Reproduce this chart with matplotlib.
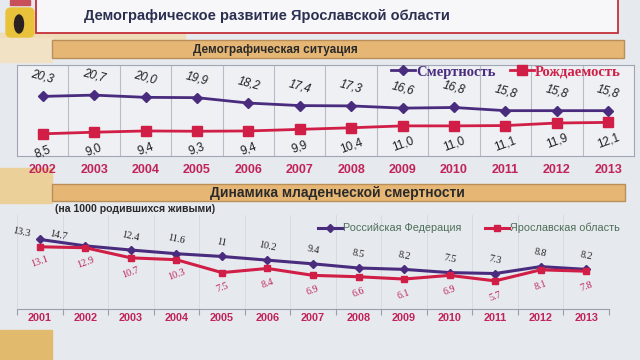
import matplotlib
matplotlib.use("Agg")
import matplotlib.pyplot as plt
from matplotlib.patches import Rectangle, Ellipse, FancyBboxPatch

# ---------------- data ----------------
years_top = ["2002", "2003", "2004", "2005", "2006", "2007", "2008", "2009",
             "2010", "2011", "2012", "2013"]
mortality = [20.3, 20.7, 20.0, 19.9, 18.2, 17.4, 17.3, 16.6, 16.8, 15.8, 15.8, 15.8]
birth_rate = [8.5, 9.0, 9.4, 9.3, 9.4, 9.9, 10.4, 11.0, 11.0, 11.1, 11.9, 12.1]

years_bottom = ["2001", "2002", "2003", "2004", "2005", "2006", "2007", "2008",
                "2009", "2010", "2011", "2012", "2013"]
infant_rf = [14.7, 13.3, 12.4, 11.6, 11.0, 10.2, 9.4, 8.5, 8.2, 7.5, 7.3, 8.8, 8.2]
infant_yar = [13.1, 12.9, 10.7, 10.3, 7.5, 8.4, 6.9, 6.6, 6.1, 6.9, 5.7, 8.1, 7.8]

title = "Демографическое развитие Ярославской области"
header1 = "Демографическая ситуация"
header2 = "Динамика младенческой смертности"
subtitle = "(на 1000 родившихся живыми)"
leg_top = ["Смертность", "Рождаемость"]
leg_bottom = ["Российская Федерация", "Ярославская область"]

PURPLE = "#4a2c7e"
RED = "#d01e46"
CRIMSON = "#c0245a"
W, H = 640, 360

plt.rcParams["font.family"] = ["Liberation Sans", "DejaVu Sans"]

fig = plt.figure(figsize=(6.4, 3.6), dpi=100)
fig.patch.set_facecolor("#e6e9ee")


def box(x0, y0, x1, y1, **kw):
    return fig.add_axes([x0 / W, 1 - y1 / H, (x1 - x0) / W, (y1 - y0) / H], **kw)


# ---------------- background / decorations ----------------
bg = box(0, 0, W, H)
bg.set_xlim(0, W)
bg.set_ylim(H, 0)
bg.axis("off")
bg.set_zorder(-5)
bg.add_patch(Rectangle((0, 0), W, H, color="#e6e9ee"))
bg.add_patch(Rectangle((0, 33), 185, 8, color="#efdcb8"))
bg.add_patch(Rectangle((0, 38), 52, 24, color="#f1e2c6"))
bg.add_patch(Rectangle((0, 168), 52, 35, color="#ecd09a"))
bg.add_patch(Rectangle((0, 330), 52, 30, color="#e2ba6e"))
# coat of arms
bg.add_patch(Rectangle((10, 0), 20, 5, color="#c8505a"))
bg.add_patch(FancyBboxPatch((6, 8), 28, 29, boxstyle="round,pad=0,rounding_size=5",
                            color="#e8c23a"))
bg.add_patch(Ellipse((19, 24), 9, 18, color="#2a2220"))
# title box
bg.add_patch(Rectangle((36, -3), 582, 36, facecolor="#f7f7f9", edgecolor="#c4303a", lw=1.3))
bg.text(267, 16, title, ha="center", va="center", fontsize=10.5, fontweight="bold",
        color="#2c3050")
# header bars
bg.add_patch(Rectangle((52, 40), 572, 18, facecolor="#e6b674", edgecolor="#b98e58", lw=1))
bg.text(275, 49.5, header1, ha="center", va="center", fontsize=8.5, fontweight="bold",
        color="#2a2a2a")
bg.add_patch(Rectangle((52, 184), 573, 17, facecolor="#e6b674", edgecolor="#b98e58", lw=1))
bg.text(337, 193, header2, ha="center", va="center", fontsize=10, fontweight="bold",
        color="#2a2a2a")
bg.text(55, 209, subtitle, ha="left", va="center", fontsize=7.6, fontweight="bold",
        color="#2a2a2a")

# ---------------- top chart ----------------
ax1 = box(17, 65, 634, 156)
ax1.set_facecolor("#eef0f4")
x1 = list(range(len(years_top)))
ax1.plot(x1, mortality, color=PURPLE, lw=2, marker="D", ms=5.5, zorder=3,
         label=leg_top[0])
ax1.plot(x1, birth_rate, color=RED, lw=2, marker="s", ms=6.5, zorder=3,
         label=leg_top[1])
ax1.set_xlim(-0.5, len(years_top) - 0.5)
ax1.set_ylim(1.5, 30.2)
ax1.set_yticks([])
ax1.set_xticks(x1)
ax1.set_xticklabels(years_top, fontsize=9, fontweight="bold", color=CRIMSON)
ax1.tick_params(axis="x", length=0, pad=6)
ax1.set_xticks([i + 0.5 for i in x1[:-1]], minor=True)
ax1.tick_params(axis="x", which="minor", length=0)
ax1.grid(axis="x", which="minor", color="#b8bcc8", lw=0.8)
for s in ax1.spines.values():
    s.set_color("#a0a6b4")
    s.set_linewidth(0.8)
for i, v in enumerate(mortality):
    ax1.annotate(f"{v:.1f}".replace(".", ","), (i, v), xytext=(0, 14),
                 textcoords="offset points", ha="center", va="center", fontsize=8.5,
                 fontstyle="italic", color="#1e1e1e", rotation=-15)
for i, v in enumerate(birth_rate):
    ax1.annotate(f"{v:.1f}".replace(".", ","), (i, v), xytext=(0, -13),
                 textcoords="offset points", ha="center", va="center", fontsize=8.5,
                 color="#1e1e1e", rotation=20)
leg1 = ax1.legend(loc="upper right", bbox_to_anchor=(1.0, 1.14), ncol=2, frameon=False,
                  handlelength=1.6, columnspacing=1.0, handletextpad=0.1,
                  prop={"family": ["Liberation Serif"], "weight": "bold", "size": 10.5})
for t, c in zip(leg1.get_texts(), [PURPLE, RED]):
    t.set_color(c)

# ---------------- bottom chart ----------------
ax2 = box(17, 215, 609, 309)
ax2.set_facecolor("none")
x2 = list(range(len(years_bottom)))
ax2.plot(x2, infant_rf, color=PURPLE, lw=2.2, marker="D", ms=4.5, zorder=3,
         label=leg_bottom[0])
ax2.plot(x2, infant_yar, color=RED, lw=2.2, marker="s", ms=4.5, zorder=3,
         label=leg_bottom[1])
ax2.set_xlim(-0.5, len(years_bottom) - 0.5)
ax2.set_ylim(-0.4, 20)
ax2.set_yticks([])
ax2.set_xticks(x2)
ax2.set_xticklabels(years_bottom, fontsize=7.8, fontweight="bold", color=CRIMSON)
ax2.tick_params(axis="x", length=0, pad=3)
ax2.set_xticks([i + 0.5 for i in [-1] + x2], minor=True)
ax2.tick_params(axis="x", which="minor", length=4, color="#9aa0aa", width=0.8)
ax2.grid(axis="x", which="minor", color="#d4d8e0", lw=0.6)
for k in ["top", "right", "left"]:
    ax2.spines[k].set_visible(False)
ax2.spines["bottom"].set_color("#9aa0aa")
ax2.spines["bottom"].set_linewidth(0.8)

serif = ["Liberation Serif", "DejaVu Serif"]
for i, v in enumerate(infant_rf):
    txt = f"{v:g}"
    if i == 0:
        anchor, off = (0, v), (13, 3)
    elif i == 1:
        anchor, off = (0, infant_rf[0]), (-13, 5)
    else:
        anchor, off = (i, v), (0, 10)
    ax2.annotate(txt, anchor, xytext=off, textcoords="offset points", ha="center",
                 va="center", fontsize=7.3, family=serif, color="#222222", rotation=-12)
for i, v in enumerate(infant_yar):
    ax2.annotate(f"{v:g}", (i, v), xytext=(0, -11), textcoords="offset points",
                 ha="center", va="center", fontsize=7.3, family=serif, color=CRIMSON,
                 rotation=20)
leg2 = ax2.legend(loc="upper right", bbox_to_anchor=(1.035, 1.02), ncol=2, frameon=False,
                  handlelength=2.2, columnspacing=2.2, handletextpad=0.1,
                  prop={"size": 7.8})
for t in leg2.get_texts():
    t.set_color("#4e6e58")

fig.savefig("out.png", dpi=100, facecolor=fig.get_facecolor())
